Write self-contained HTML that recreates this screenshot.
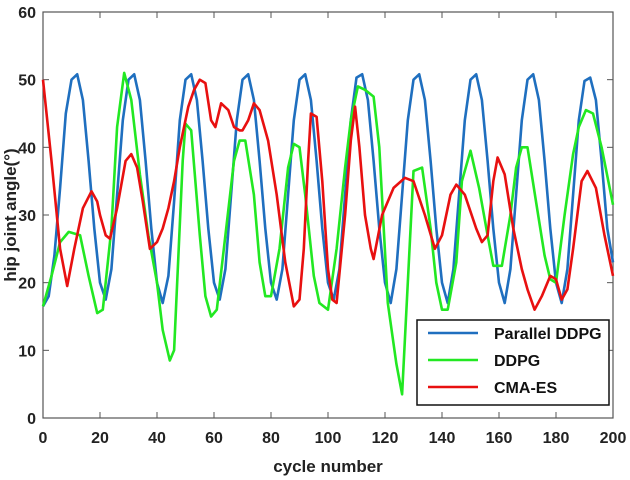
<!DOCTYPE html>
<html><head><meta charset="utf-8"><style>
html,body{margin:0;padding:0;background:#fff;}
svg{display:block;font-family:"Liberation Sans",Arial,sans-serif;}
</style></head><body>
<svg id="chart" width="630" height="480">
<rect x="43" y="12" width="570" height="406" fill="#fff" stroke="#555" stroke-width="1.2"/>
<g id="ticks"></g>
<g id="series"></g>
<text x="328" y="472" text-anchor="middle" font-size="17" font-weight="bold" fill="#222">cycle number</text>
<text transform="translate(16,215) rotate(-90)" text-anchor="middle" font-size="17" font-weight="bold" fill="#222">hip joint angle(°)</text>
<g>
<rect x="417" y="320" width="192" height="85" fill="#fff" stroke="#111" stroke-width="1.5"/>
<g><line x1="428" y1="333" x2="478" y2="333" stroke="#1f6fbf" stroke-width="2.5"/><text x="494" y="339" font-size="16" font-weight="bold" fill="#111">Parallel DDPG</text></g>
<g><line x1="428" y1="360" x2="478" y2="360" stroke="#22e822" stroke-width="2.5"/><text x="494" y="366" font-size="16" font-weight="bold" fill="#111">DDPG</text></g>
<g><line x1="428" y1="387" x2="478" y2="387" stroke="#e81010" stroke-width="2.5"/><text x="494" y="393" font-size="16" font-weight="bold" fill="#111">CMA-ES</text></g>
</g>
</svg>
<script>
const xTicks=[0,20,40,60,80,100,120,140,160,180,200];
const yTicks=[0,10,20,30,40,50,60];
const blueX=[0,2,4,6,8,10,12,14,16,18,20,22,24,26,28,30,32,34,36,38,40,42,44,46,48,50,52,54,56,58,60,62,64,66,68,70,72,74,76,78,80,82,84,86,88,90,92,94,96,98,100,102,104,106,108,110,112,114,116,118,120,122,124,126,128,130,132,134,136,138,140,142,144,146,148,150,152,154,156,158,160,162,164,166,168,170,172,174,176,178,180,182,184,186,188,190,192,194,196,198,200];
const blueY=[16.5,18,24,34,45,50,50.8,47,38,28,20,17.5,22,33,44,50,50.8,47,38,28,20,17,21,32,44,50,50.8,47,38,28,20,17.5,22,33,44,50,50.8,47,38,28,20,17.5,22,33,44,50,50.8,47,38,28,20,17.5,22,33,44,50.3,50.8,47,38,28,20,17,22,33,44,50,50.8,47,38,28,20,17,22,33,44,50,50.8,47,38,28,20,17,22,33,44,50,50.8,47,38,28,20,17,22,33,44,49.8,50.3,47,38,28,23];
const greenX=[0,3,6,9,13,16,19,21,24,26,28.5,31,34,37,40,42,44.5,46,49,50,52,55,57,59,61,64,67,69,71,74,76,78,80,83,86,88,90,92,95,97,100,103,106,108,110.5,113,116,118,121,124,126,128,130,133,136,138,140,142,145,147,150,153,156,158,161,164,166,168,170,173,176,178,180,183,186,188,190.5,193,196,200];
const greenY=[16.5,21,26,27.5,27,21,15.5,16,28,43,51,47,36,27,20,13,8.5,10,38,43.5,42.5,27,18,15,16,27,38,41,41,33,23,18,18,25,37,40.5,40,33,21,17,16,25,37,44,49,48.5,47.5,40,17,8,3.5,20,36.5,37,28,20,16,16,23,35,39.5,34,27,22.5,22.5,30,37,40,40,32,24,20.5,20,30,39,43,45.5,45,40,31.5];
const redX=[0,3,6,8.5,11,14,17,19,20,22,23.5,26,29,31,33,35,37.5,40,42,44,46,48,51,53,55,57,59,60.5,62.5,65,67,69,70,72,74,76,79,82,85,88,90,91.5,93,94,96,98,100,101.5,103,106,108,109.5,111,113,115,116,119,123,127,130,134,137.5,140,143,145,148,152,154,156,158,159.5,162,165,168,170,172.5,175,178,180,182,184,186,189,191,194,197,200];
const redY=[50,38,25,19.5,25,31,33.5,32,30,27,26.5,31,38,39,37,32,25,26,28,31,35,40,46,48.5,50,49.5,44,43,46.5,45.5,43,42.5,42.5,44,46.5,45.5,41,33,23,16.5,17.5,25,38,45,44.5,35,22,17.5,17,30,41,46,40,30,25,23.5,30,34,35.5,35,30,25,27,33,34.5,33,28,26,27,35,38.5,36,28,22,19,16,18,21,20.5,17.5,19,25,35,36.5,34,27,21];
const X0=43,X1=613,Y0=418,Y1=12;
const sx=v=>X0+(v-0)/200*(X1-X0);
const sy=v=>Y0-(v-0)/60*(Y0-Y1);
const NS='http://www.w3.org/2000/svg';
const tg=document.getElementById('ticks');
xTicks.forEach(t=>{
 const l=document.createElementNS(NS,'line');
 l.setAttribute('x1',sx(t));l.setAttribute('x2',sx(t));l.setAttribute('y1',Y0);l.setAttribute('y2',Y0-6);
 l.setAttribute('stroke','#555');
 
 
 tg.appendChild(l);
 const l2=l.cloneNode();l2.setAttribute('y1',Y1);l2.setAttribute('y2',Y1+6);tg.appendChild(l2);
 const tx=document.createElementNS(NS,'text');
 tx.setAttribute('x',sx(t));tx.setAttribute('y',443);tx.setAttribute('text-anchor','middle');
 tx.setAttribute('font-size','16');tx.setAttribute('font-weight','bold');tx.setAttribute('fill','#222');
 
 
 tx.textContent=t;tg.appendChild(tx);
});
yTicks.forEach(t=>{
 const l=document.createElementNS(NS,'line');
 l.setAttribute('x1',X0);l.setAttribute('x2',X0+6);l.setAttribute('y1',sy(t));l.setAttribute('y2',sy(t));
 l.setAttribute('stroke','#555');
 
 
 tg.appendChild(l);
 const l2=l.cloneNode();l2.setAttribute('x1',X1);l2.setAttribute('x2',X1-6);tg.appendChild(l2);
 const tx=document.createElementNS(NS,'text');
 tx.setAttribute('x',36);tx.setAttribute('y',sy(t)+6);tx.setAttribute('text-anchor','end');
 tx.setAttribute('font-size','16');tx.setAttribute('font-weight','bold');tx.setAttribute('fill','#222');
 
 
 tx.textContent=t;tg.appendChild(tx);
});
const sg=document.getElementById('series');
function draw(xs,ys,color,name){
 const p=document.createElementNS(NS,'polyline');
 p.setAttribute('points',xs.map((x,i)=>sx(x).toFixed(1)+','+sy(ys[i]).toFixed(1)).join(' '));
 p.setAttribute('fill','none');p.setAttribute('stroke',color);p.setAttribute('stroke-width','2.6');
 p.setAttribute('stroke-linejoin','round');
 
 
 sg.appendChild(p);
}
draw(blueX,blueY,'#1f6fbf','parallel-ddpg-line');
draw(greenX,greenY,'#22e822','ddpg-line');
draw(redX,redY,'#e81010','cma-es-line');
</script>
</body></html>
